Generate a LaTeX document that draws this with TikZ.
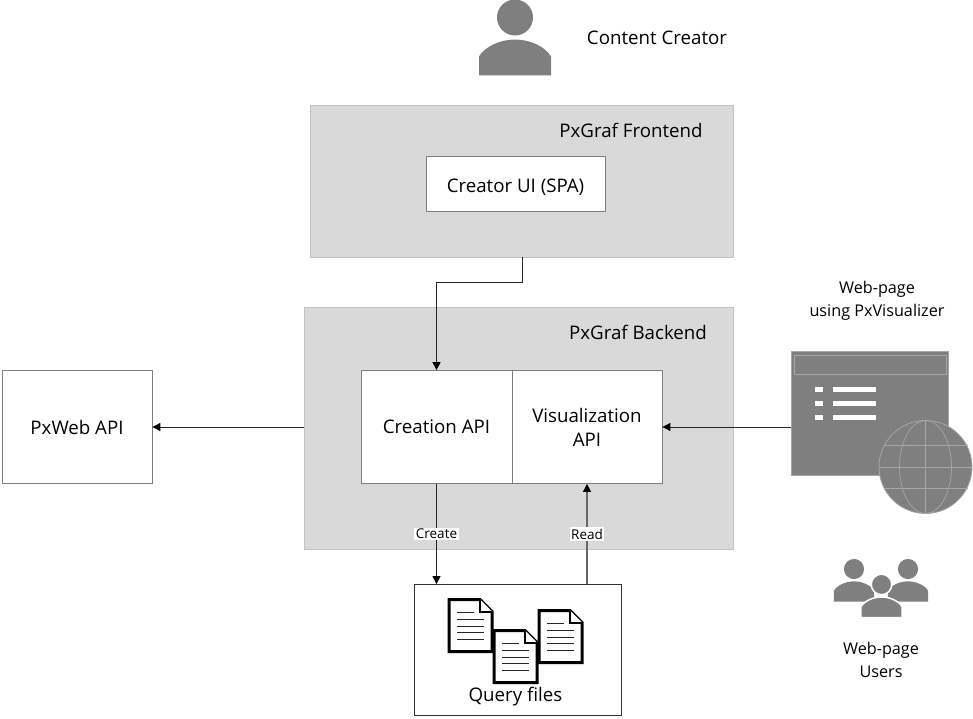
\documentclass[tikz,border=0pt]{standalone}
\usepackage{fontspec}
\setmainfont{Open Sans}
\usetikzlibrary{arrows.meta}
\definecolor{panelgray}{HTML}{D9D9D9}
\definecolor{icongray}{HTML}{7F7F7F}
\definecolor{edgegray}{HTML}{A6A6A6}
\tikzset{
  every node/.style={font=\fontsize{18.7}{24}\selectfont, align=center, inner sep=0pt},
  smalltitle/.style={font=\fontsize{16.2}{23}\selectfont},
  panel/.style={fill=panelgray, draw=panelgray!90!black, line width=0.6pt, anchor=north west},
  box/.style={fill=white, draw=icongray, line width=0.8pt},
  link/.style={draw=black!85, line width=0.9pt, -{Triangle[length=8pt,width=8pt,black]}},
  tag/.style={fill=white, font=\fontsize{13.5}{15}\selectfont, inner sep=1.5pt},
  person/.pic={
    \fill[pic actions] (0,-58) circle (18);
    \path[pic actions] (-36,0) -- (-36,-19) .. controls (-30,-29) and (-15,-36) .. (0,-36)
      .. controls (15,-36) and (30,-29) .. (36,-19) -- (36,0) -- cycle;
  },
  doc/.pic={
    \draw[black, line width=3pt, fill=white, line join=miter]
      (0,0) -- (31,0) -- (43,12) -- (43,52) -- (0,52) -- cycle;
    \draw[black, line width=2pt, fill=white] (31,0) -- (31,12) -- (43,12);
    \draw[black!85, line width=1.5pt] (8,13) -- (25,13);
    \foreach \y in {20,27,33,40}
      \draw[black!85, line width=1.5pt] (8,\y) -- (35,\y);
  }
}
\begin{document}
\begin{tikzpicture}[x=1pt,y=-1pt]
\useasboundingbox (0,0.5) rectangle (973,719.5);
% panels
\node[panel, minimum width=423pt, minimum height=151pt] (frontend) at (310,106) {};
\node[panel, minimum width=429pt, minimum height=242pt] (backend) at (304,307) {};
\node (frontendtitle) at (631,131) {PxGraf Frontend};
\node (backendtitle) at (638,333) {PxGraf Backend};
% boxes
\node[box, minimum width=179pt, minimum height=55pt] (creatorui) at (515.5,184.5) {\rule{0pt}{19pt}Creator UI (SPA)};
\node[box, minimum width=151pt, minimum height=113pt] (creationapi) at (436.5,427.5) {Creation API};
\node[box, minimum width=150pt, minimum height=113pt] (visualizationapi) at (587,427.5) {Visualization\\API};
\node[box, minimum width=150pt, minimum height=113pt] (pxwebapi) at (77,427.5) {PxWeb API};
\node[box, draw=black!80, minimum width=207pt, minimum height=131pt] (queryfiles) at (517.5,650.5) {};
\node (querytitle) at (515.5,697.5) {Query files};
% person on top
\pic[fill=icongray] at (515,76) {person};
\node (creatortitle) at (657,38.5) {Content Creator};
% web page icon
\node[fill=icongray, draw=edgegray, line width=0.8pt, minimum width=157pt, minimum height=124pt] (webpage) at (869.5,414) {};
\draw[edgegray, line width=0.8pt] (794,356) rectangle (946,375);
\foreach \y in {390,403.5,417.5} {
  \fill[white] (815,\y-2.5) rectangle (823,\y+2.5);
  \fill[white] (833,\y-2.5) rectangle (876,\y+2.5);
}
\node[circle, fill=icongray, draw=edgegray, line width=0.8pt, minimum size=93pt] (globe) at (925.5,467.5) {};
\draw[edgegray, line width=0.7pt] (925.5,467.5) ellipse (26 and 46.5);
\draw[edgegray, line width=0.7pt] (925.5,421) -- (925.5,514);
\draw[edgegray, line width=0.7pt] (883.5,446) -- (967.5,446);
\draw[edgegray, line width=0.7pt] (879,467.5) -- (972,467.5);
\draw[edgegray, line width=0.7pt] (883.5,489) -- (967.5,489);
\node[smalltitle] (webpagetitle) at (877,301) {Web-page\\using PxVisualizer};
% users
\pic[fill=icongray, scale=0.56] at (854,602) {person};
\pic[fill=icongray, scale=0.56] at (908,602) {person};
\pic[fill=icongray, draw=white, line width=1.5pt, scale=0.57] at (881.5,618) {person};
\node[smalltitle] (userstitle) at (881,660) {Web-page\\Users};
% files
\pic at (449,600) {doc};
\pic at (539,611) {doc};
\pic at (494,631) {doc};
% connectors
\coordinate (frontendout) at (522,257);
\draw[link] (frontendout) -- (522,283) -- (436.5,283) -- (creationapi.north);
\draw[link] (backend.west |- pxwebapi.east) -- (pxwebapi.east);
\draw[link] (webpage.west |- visualizationapi.east) -- (visualizationapi.east);
\draw[link] (creationapi.south) -- node[tag] {Create} (queryfiles.north -| creationapi.south);
\draw[link, draw=black!60, line width=1.3pt] (queryfiles.north -| visualizationapi.south) -- node[tag] {Read} (visualizationapi.south);
\end{tikzpicture}
\end{document}
